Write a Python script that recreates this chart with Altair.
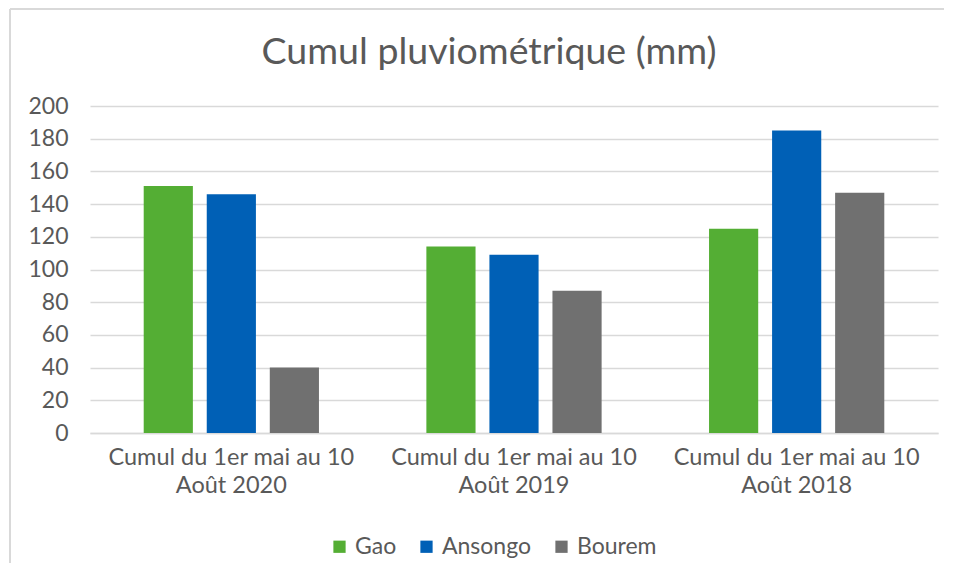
import altair as alt
import pandas as pd

periods = ["Cumul du 1er mai au 10 Août 2020",
           "Cumul du 1er mai au 10 Août 2019",
           "Cumul du 1er mai au 10 Août 2018"]
stations = ["Gao", "Ansongo", "Bourem"]
gao = [151, 114, 125]
ansongo = [146, 109, 185]
bourem = [40, 87, 147]
colors = ["#54AE34", "#0060B6", "#707070"]

rows = []
for i, p in enumerate(periods):
    for s, vals in zip(stations, [gao, ansongo, bourem]):
        rows.append({"period": p, "station": s, "value": vals[i]})
df = pd.DataFrame(rows)

FONT = "Lato"
TXT = "#595959"
GRID = "#D9D9D9"

bars = alt.Chart(df).mark_bar().encode(
    x=alt.X("period:N", sort=periods, title=None,
            scale=alt.Scale(paddingInner=0.38, paddingOuter=0.19),
            axis=alt.Axis(labelExpr="[slice(datum.label,0,22), slice(datum.label,23)]",
                          labelAngle=0, labelFont=FONT, labelFontSize=23.5, labelColor=TXT,
                          labelLineHeight=28, labelPadding=12, labelLimit=400, ticks=False,
                          domain=True, domainColor=GRID, domainWidth=1.5, grid=False)),
    xOffset=alt.XOffset("station:N", sort=stations,
                        scale=alt.Scale(paddingInner=0.22, paddingOuter=0)),
    y=alt.Y("value:Q", title=None,
            scale=alt.Scale(domain=[0, 200], nice=False),
            axis=alt.Axis(values=list(range(0, 201, 20)), labelFont=FONT, labelFontSize=23,
                          labelColor=TXT, labelPadding=22, ticks=False, domain=False,
                          grid=True, gridColor=GRID, gridWidth=1.5)),
    color=alt.Color("station:N", sort=stations,
                    scale=alt.Scale(domain=stations, range=colors),
                    legend=alt.Legend(title=None, orient="none", direction="horizontal",
                                      legendX=238, legendY=429,
                                      symbolType="square", symbolSize=150,
                                      symbolStrokeWidth=0, labelFont=FONT,
                                      labelFontSize=23, labelColor=TXT, columnPadding=18,
                                      labelOffset=4)),
)

frame_df = pd.DataFrame({"a": [0]})
frame_v = alt.Chart(frame_df).mark_rule(color=GRID, strokeWidth=2).encode(
    x=alt.value(-80), y=alt.value(-97), y2=alt.value(480))
frame_h = alt.Chart(frame_df).mark_rule(color=GRID, strokeWidth=2).encode(
    x=alt.value(-80), x2=alt.value(870), y=alt.value(-97))

chart = alt.layer(frame_v, frame_h, bars).properties(
    width=848, height=327,
    title=alt.TitleParams("Cumul pluviométrique (mm)", font=FONT, fontSize=37.5,
                          fontWeight="normal", color=TXT, anchor="middle",
                          frame="group", baseline="alphabetic", offset=41, dy=134, dx=-25),
    autosize=alt.AutoSizeParams(type="none"),
    padding={"left": 82, "top": 98, "right": 6, "bottom": 130},
).configure(background="white").configure_view(stroke=None)

chart.save("out.html", embed_options={"renderer": "svg", "actions": False})
